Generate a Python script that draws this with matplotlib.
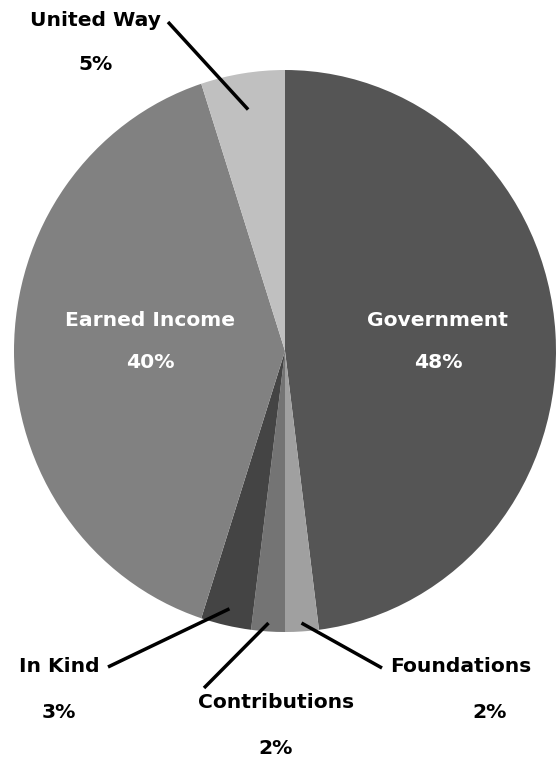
import matplotlib
matplotlib.use("Agg")
import matplotlib.pyplot as plt
import numpy as np

categories = ["Government", "Foundations", "Contributions", "In Kind", "Earned Income", "United Way"]
values = [48, 2, 2, 3, 40, 5]
colors = ["#555555", "#a0a0a0", "#747474", "#444444", "#818181", "#c0c0c0"]

W, H = 556, 757
CX, CY, RX, RY = 285, 351, 271, 281

fig = plt.figure(figsize=(W / 100, H / 100), dpi=100)
ax = fig.add_axes([(CX - RX) / W, 1 - (CY + RY) / H, 2 * RX / W, 2 * RY / H])
wedges, _ = ax.pie(values, colors=colors, startangle=90, counterclock=False,
                   radius=1, center=(0, 0), frame=True,
                   wedgeprops=dict(linewidth=0))
ax.set_aspect("auto")
ax.set_xlim(-1, 1)
ax.set_ylim(-1, 1)
ax.axis("off")


def px2d(px, py):
    return (px - CX) / RX, (CY - py) / RY


font = dict(family="DejaVu Sans", fontweight="bold", fontsize=14.6)

# label layout: (name pos, pct pos, leader outer end or None, leader inner radius, text color)
layout = {
    "Government": ((438, 320), (438, 363), None, 0, "white"),
    "Earned Income": ((150, 320), (150, 363), None, 0, "white"),
    "United Way": ((96, 20), (96, 64), (168, 22), 0.87, "black"),
    "In Kind": ((59, 667), (59, 713), (108, 667), 0.94, "black"),
    "Contributions": ((276, 703), (276, 748), (204, 688), 0.97, "black"),
    "Foundations": ((461, 667), (490, 713), (382, 668), 0.97, "black"),
}

for w, cat, v in zip(wedges, categories, values):
    npos, ppos, lend, r, col = layout[cat]
    x, y = px2d(*npos)
    ax.text(x, y, cat, ha="center", va="center", color=col, clip_on=False, **font)
    x, y = px2d(*ppos)
    ax.text(x, y, f"{v}%", ha="center", va="center", color=col, clip_on=False, **font)
    if lend is not None:
        mid = np.deg2rad((w.theta1 + w.theta2) / 2)
        x0, y0 = r * np.cos(mid), r * np.sin(mid)
        x1, y1 = px2d(*lend)
        ax.plot([x0, x1], [y0, y1], color="black", lw=2.5, clip_on=False,
                solid_capstyle="butt")

fig.savefig("out.png", dpi=100, facecolor="white")
